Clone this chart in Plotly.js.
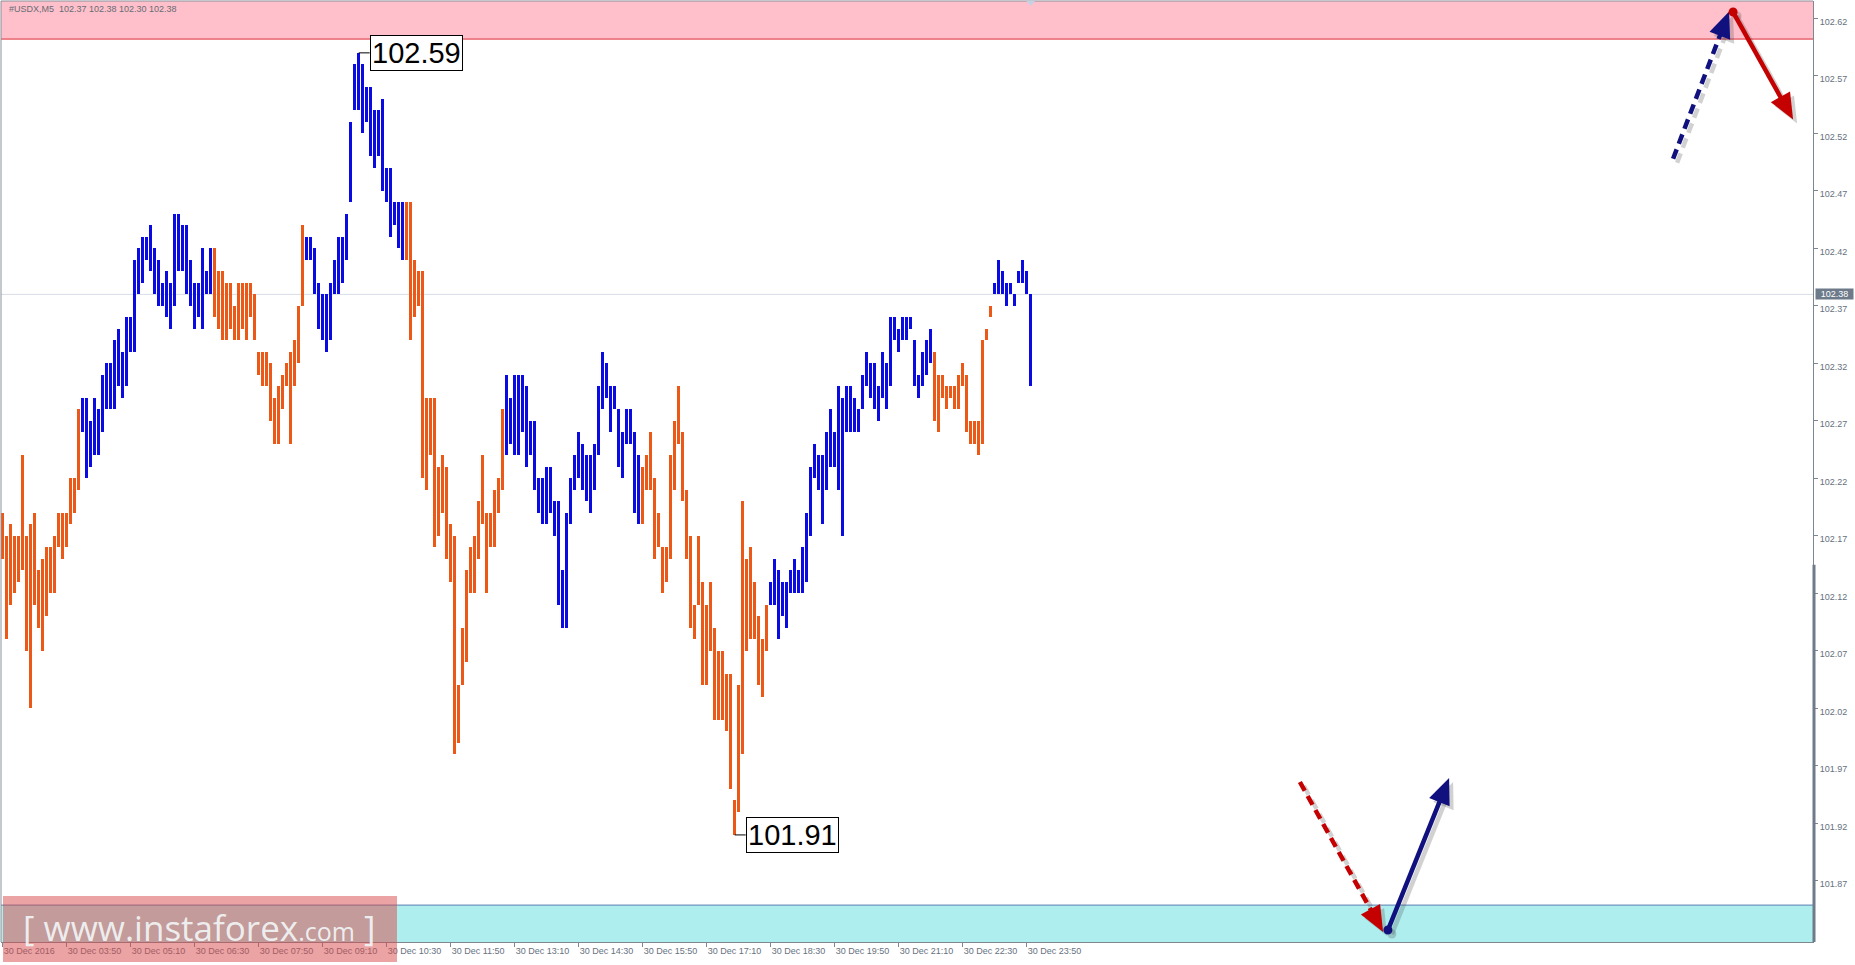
<!DOCTYPE html>
<html>
<head>
<meta charset="utf-8">
<script src="https://cdn.plot.ly/plotly-3.0.1.min.js"></script>
<style>
html,body{margin:0;padding:0;background:#ffffff;overflow:hidden;}
#chart{width:1855px;height:965px;}
</style>
</head>
<body>
<div id="chart"></div>
<script>
// ---------------- DATA ----------------
const symbol = "#USDX,M5";
const lastOpen = 102.37;
const lastClose = 102.38;

// 5-minute bars, 30 Dec 2016 02:30 ... 23:55 (bar index 1..258)
const high = [
 102.19,102.17,102.18,102.17,102.17,102.24,102.17,102.18,102.19,102.14,
 102.15,102.16,102.16,102.17,102.19,102.19,102.19,102.22,102.22,102.28,
 102.29,102.29,102.27,102.29,102.28,102.31,102.32,102.32,102.34,102.35,
 102.33,102.36,102.36,102.41,102.42,102.43,102.43,102.44,102.42,102.41,
 102.39,102.40,102.39,102.45,102.45,102.44,102.44,102.41,102.39,102.39,
 102.42,102.40,102.42,102.42,102.40,102.40,102.39,102.39,102.37,102.39,
 102.39,102.39,102.39,102.38,102.33,102.33,102.33,102.32,102.29,102.30,
 102.31,102.32,102.33,102.34,102.37,102.44,102.43,102.43,102.42,102.39,
 102.38,102.38,102.39,102.41,102.43,102.43,102.45,102.53,102.58,102.59,
 102.58,102.56,102.56,102.54,102.54,102.55,102.49,102.49,102.46,102.46,
 102.46,102.46,102.46,102.41,102.40,102.40,102.29,102.29,102.29,102.23,
 102.24,102.23,102.18,102.17,102.04,102.09,102.14,102.16,102.17,102.20,
 102.24,102.19,102.19,102.21,102.22,102.28,102.31,102.29,102.31,102.31,
 102.31,102.30,102.27,102.27,102.22,102.22,102.23,102.23,102.20,102.20,
 102.14,102.19,102.22,102.24,102.26,102.25,102.24,102.24,102.25,102.30,
 102.33,102.32,102.30,102.30,102.28,102.26,102.28,102.28,102.26,102.24,
 102.23,102.24,102.26,102.22,102.19,102.16,102.16,102.24,102.27,102.30,
 102.26,102.21,102.17,102.11,102.17,102.13,102.11,102.13,102.09,102.07,
 102.07,102.05,102.05,101.94,102.04,102.20,102.15,102.16,102.13,102.10,
 102.08,102.11,
 102.13,102.15,102.14,102.13,102.13,102.14,102.15,102.14,102.16,102.19,
 102.23,102.25,102.24,102.24,102.26,102.28,102.26,102.30,102.29,102.30,
 102.30,102.29,102.28,102.31,102.33,102.32,102.32,102.30,102.33,102.32,
 102.36,102.36,102.35,102.36,102.36,102.36,102.34,102.31,102.33,102.34,102.35,
 102.33,102.31,102.31,102.30,102.30,102.30,102.31,102.32,102.31,102.27,
 102.27,102.27,102.34,102.35,102.37,
 102.39,102.41,102.40,102.39,102.39,102.38,102.40,102.41,102.40,102.38
];
const low = [
 102.15,102.08,102.11,102.12,102.13,102.14,102.07,102.02,102.11,102.09,
 102.07,102.10,102.12,102.12,102.16,102.15,102.16,102.18,102.19,102.21,
 102.26,102.22,102.23,102.24,102.24,102.26,102.28,102.28,102.28,102.30,
 102.29,102.30,102.33,102.33,102.38,102.39,102.41,102.40,102.38,102.37,
 102.37,102.36,102.35,102.37,102.40,102.40,102.38,102.37,102.35,102.36,
 102.35,102.38,102.38,102.36,102.35,102.34,102.34,102.35,102.34,102.34,
 102.35,102.34,102.36,102.34,102.31,102.30,102.30,102.27,102.25,102.25,
 102.28,102.30,102.25,102.30,102.32,102.37,102.41,102.41,102.38,102.35,
 102.34,102.33,102.34,102.38,102.38,102.39,102.41,102.46,102.54,102.54,
 102.52,102.53,102.50,102.49,102.50,102.47,102.46,102.43,102.44,102.42,
 102.41,102.41,102.34,102.36,102.37,102.22,102.21,102.24,102.16,102.17,
 102.19,102.15,102.13,101.98,101.99,102.04,102.06,102.12,102.12,102.15,
 102.18,102.12,102.16,102.16,102.19,102.21,102.24,102.25,102.24,102.24,
 102.26,102.23,102.24,102.21,102.19,102.18,102.18,102.19,102.17,102.11,
 102.09,102.09,102.18,102.21,102.22,102.21,102.20,102.19,102.21,102.24,
 102.28,102.29,102.26,102.28,102.23,102.22,102.25,102.25,102.19,102.18,
 102.18,102.21,102.21,102.15,102.16,102.12,102.13,102.15,102.21,102.25,
 102.20,102.15,102.09,102.08,102.11,102.04,102.04,102.07,102.01,102.01,
 102.01,102.00,101.95,101.91,101.93,101.98,102.07,102.08,102.08,102.04,
 102.03,102.07,
 102.11,102.11,102.08,102.10,102.09,102.12,102.12,102.12,102.12,102.13,
 102.17,102.22,102.21,102.18,102.21,102.23,102.23,102.21,102.17,102.26,
 102.26,102.26,102.26,102.28,102.30,102.29,102.28,102.27,102.29,102.28,
 102.30,102.34,102.33,102.34,102.34,102.35,102.30,102.29,102.30,102.31,102.32,
 102.27,102.26,102.29,102.28,102.29,102.28,102.28,102.30,102.26,102.25,
 102.25,102.24,102.25,102.34,102.36,
 102.38,102.38,102.38,102.37,102.38,102.37,102.39,102.39,102.38,102.30
];

// wave segments (bar colour): first bar of each segment and its direction
const trendStartBar = [1, 21, 54, 77, 102, 127, 161, 193, 234, 249];
const trendDirection = ["down","up","down","up","down","up","down","up","down","up"];

// time axis labels
const xTickBars = [1,17,33,49,65,81,97,113,129,145,161,177,193,209,225,241,257];
const xTickLabels = ["30 Dec 2016","30 Dec 03:50","30 Dec 05:10","30 Dec 06:30","30 Dec 07:50",
  "30 Dec 09:10","30 Dec 10:30","30 Dec 11:50","30 Dec 13:10","30 Dec 14:30","30 Dec 15:50",
  "30 Dec 17:10","30 Dec 18:30","30 Dec 19:50","30 Dec 21:10","30 Dec 22:30","30 Dec 23:50"];
const yTickValues = [101.87,101.92,101.97,102.02,102.07,102.12,102.17,102.22,102.27,102.32,102.37,102.42,102.47,102.52,102.57,102.62];

const currentPrice = 102.38;
const resistanceZoneLow = 102.602;   // pink zone lower edge
const supportZoneHigh = 101.849;     // cyan zone upper edge
const swingHigh = {bar: 90, price: 102.59};
const swingLow = {bar: 184, price: 101.91};

// forecast arrows (bar index, price)
const forecastArrows = [
  {from:{bar:418.6, price:102.498}, to:{bar:432.6, price:102.626}, color:"#10107e", dashed:true,  startDot:false},
  {from:{bar:433.6, price:102.6255}, to:{bar:448.6, price:102.532}, color:"#c40000", dashed:false, startDot:true},
  {from:{bar:325.3, price:101.956}, to:{bar:346.1, price:101.8256}, color:"#c40000", dashed:true,  startDot:false},
  {from:{bar:347.3, price:101.8273}, to:{bar:362.6, price:101.9595}, color:"#10107e", dashed:false, startDot:true}
];

// ---------------- STYLE / LAYOUT ----------------
const W = 1855, H = 965;
const margin = {l:1, r:42, t:1, b:23};
const plotW = W - margin.l - margin.r, plotH = H - margin.t - margin.b;
const xRange = [0.575, 453.575];
const yRange = [101.8169, 102.6351];
const upColor = "#0a0ae2", downColor = "#ec5818";
const axisColor = "#7d8792", tickFontColor = "#66717e";

const barIndex = high.map((_, i) => i + 1);
const barColors = barIndex.map(k => {
  let d = trendDirection[0];
  for (let i = 0; i < trendStartBar.length; i++) if (k >= trendStartBar[i]) d = trendDirection[i];
  return d === "up" ? upColor : downColor;
});

const trace = {
  type: "bar",
  x: barIndex,
  base: low,
  y: high.map((h, i) => +(h - low[i]).toFixed(2)),
  width: 0.72,
  marker: {color: barColors, line: {width: 0}},
  hoverinfo: "skip",
  showlegend: false
};

function kToPx(k){ return margin.l + (k - xRange[0]) / (xRange[1] - xRange[0]) * plotW; }
function pxToK(px){ return xRange[0] + (px - margin.l) / plotW * (xRange[1] - xRange[0]); }
function pToPy(p){ return margin.t + (yRange[1] - p) / (yRange[1] - yRange[0]) * plotH; }
function pyToP(py){ return yRange[1] - (py - margin.t) / plotH * (yRange[1] - yRange[0]); }
function paperX(px){ return (px - margin.l) / plotW; }
function paperY(py){ return (margin.t + plotH - py) / plotH; }

function arrowShapes(a){
  const ax = kToPx(a.from.bar), ay = pToPy(a.from.price);
  const bx = kToPx(a.to.bar), by = pToPy(a.to.price);
  const dx = bx - ax, dy = by - ay, len = Math.hypot(dx, dy);
  const ux = dx / len, uy = dy / len, nx = -uy, ny = ux;
  const L = 26, HW = 11;
  const out = [];
  [{off:4, color:"rgba(70,70,70,0.25)"}, {off:0, color:a.color}].forEach(v => {
    const o = v.off;
    const baseX = bx - ux * L + o, baseY = by - uy * L + o;
    out.push({type:"line", xref:"x", yref:"y", layer:"above",
      x0:pxToK(ax + o), y0:pyToP(ay + o), x1:pxToK(baseX + ux * 3), y1:pyToP(baseY + uy * 3),
      line:{color:v.color, width:4.5, dash:a.dashed ? "10px,6px" : "solid"}});
    const pts = [[bx + o, by + o], [baseX + nx * HW, baseY + ny * HW], [baseX - nx * HW, baseY - ny * HW]];
    out.push({type:"path", xref:"x", yref:"y", layer:"above",
      path:"M " + pts.map(p => pxToK(p[0]) + "," + pyToP(p[1])).join(" L ") + " Z",
      fillcolor:v.color, line:{width:0}});
    if (a.startDot) out.push({type:"circle", xref:"x", yref:"y", layer:"above",
      xsizemode:"pixel", ysizemode:"pixel", xanchor:pxToK(ax + o), yanchor:pyToP(ay + o),
      x0:-4.5, x1:4.5, y0:-4.5, y1:4.5, fillcolor:v.color, line:{width:0}});
  });
  return out;
}

const labelGapPx = 11;
const shapes = [
  // resistance (pink) zone
  {type:"rect", xref:"paper", yref:"y", x0:0, x1:1, y0:resistanceZoneLow, y1:yRange[1], fillcolor:"#ffc0cb", line:{width:0}, layer:"below"},
  {type:"line", xref:"paper", yref:"y", x0:0, x1:1, y0:resistanceZoneLow, y1:resistanceZoneLow, line:{color:"#dc2a34", width:1}, layer:"below"},
  // support (cyan) zone
  {type:"rect", xref:"paper", yref:"y", x0:0, x1:1, y0:yRange[0], y1:supportZoneHigh, fillcolor:"#afeeee", line:{width:0}, layer:"below"},
  {type:"line", xref:"paper", yref:"y", x0:0, x1:1, y0:supportZoneHigh, y1:supportZoneHigh, line:{color:"#5a7fb2", width:1}, layer:"below"},
  // current price line
  {type:"line", xref:"paper", yref:"y", x0:0, x1:1, y0:currentPrice, y1:currentPrice, line:{color:"#d6dce8", width:1}, layer:"below"},
  // frame
  {type:"line", xref:"paper", yref:"paper", x0:0, x1:1, y0:1, y1:1, line:{color:"#8a9098", width:1}},
  {type:"line", xref:"paper", yref:"paper", x0:0, x1:0, y0:0, y1:1, line:{color:"#8a9098", width:1}},
  // scroll marker on the price scale
  {type:"line", xref:"paper", yref:"y", x0:paperX(1814), x1:paperX(1814), y0:102.145, y1:yRange[0], line:{color:"#6f7b88", width:3}},
  // shift marker at top
  {type:"path", xref:"x", yref:"paper", path:"M " + (high.length - 1.1) + ",1 L " + (high.length + 1.1) + ",1 L " + high.length + "," + paperY(6) + " Z", fillcolor:"#c4d0e6", line:{width:0}},
  // label connectors
  {type:"line", xref:"x", yref:"y", x0:swingHigh.bar, x1:swingHigh.bar + labelGapPx * (xRange[1]-xRange[0]) / plotW, y0:swingHigh.price, y1:swingHigh.price, line:{color:"#000", width:1}},
  {type:"line", xref:"x", yref:"y", x0:swingLow.bar, x1:swingLow.bar + labelGapPx * (xRange[1]-xRange[0]) / plotW, y0:swingLow.price, y1:swingLow.price, line:{color:"#000", width:1}},
  ...forecastArrows.flatMap(arrowShapes),
  // watermark box
  {type:"rect", xref:"paper", yref:"paper", x0:paperX(3), x1:paperX(397), y0:paperY(962), y1:paperY(896), fillcolor:"rgba(215,72,72,0.5)", line:{width:0}, layer:"above"}
];

const fmt = v => v.toFixed(2);
const annotations = [
  {xref:"paper", yref:"paper", x:0, y:1, xanchor:"left", yanchor:"top", xshift:6, yshift:-1, showarrow:false,
   text: symbol + "&nbsp;&nbsp;" + [lastOpen, high[high.length-1], low[low.length-1], lastClose].map(fmt).join(" "),
   font:{family:"Liberation Sans, Arial, sans-serif", size:9, color:"#666c74"}},
  {xref:"x", yref:"y", x:swingHigh.bar, y:swingHigh.price, xanchor:"left", yanchor:"middle", xshift:labelGapPx, showarrow:false,
   text:fmt(swingHigh.price), font:{family:"Liberation Sans, Arial, sans-serif", size:29, color:"#000"},
   bgcolor:"#ffffff", bordercolor:"#000000", borderwidth:1, borderpad:1},
  {xref:"x", yref:"y", x:swingLow.bar, y:swingLow.price, xanchor:"left", yanchor:"middle", xshift:labelGapPx, showarrow:false,
   text:fmt(swingLow.price), font:{family:"Liberation Sans, Arial, sans-serif", size:29, color:"#000"},
   bgcolor:"#ffffff", bordercolor:"#000000", borderwidth:1, borderpad:1},
  {xref:"paper", yref:"y", x:1, y:currentPrice, xanchor:"left", yanchor:"middle", xshift:2, showarrow:false,
   text:fmt(currentPrice), font:{family:"Liberation Sans, Arial, sans-serif", size:9, color:"#ffffff"},
   bgcolor:"#6c7a8a", borderpad:0, width:37, height:10},
  {xref:"paper", yref:"paper", x:paperX(199), y:paperY(927), xanchor:"center", yanchor:"middle", showarrow:false,
   text:"[ www.instaforex<span style='font-size:25px'>.com</span> ]",
   font:{family:"Open Sans, Liberation Sans, sans-serif", size:35, color:"rgba(242,246,246,0.93)"}}
];

const layout = {
  width: W, height: H,
  margin: margin,
  paper_bgcolor: "#ffffff", plot_bgcolor: "#ffffff",
  showlegend: false, hovermode: false, dragmode: false,
  bargap: 0,
  xaxis: {
    range: xRange, fixedrange: true, showgrid: false, zeroline: false,
    tickmode: "array", tickvals: xTickBars, ticktext: xTickLabels,
    ticks: "outside", ticklen: 4, tickcolor: axisColor, ticklabelposition: "outside right",
    showline: true, linecolor: axisColor, linewidth: 1,
    tickfont: {family: "Liberation Sans, Arial, sans-serif", size: 9, color: tickFontColor}
  },
  yaxis: {
    side: "right", range: yRange, fixedrange: true, showgrid: false, zeroline: false,
    tickmode: "array", tickvals: yTickValues, ticktext: yTickValues.map(fmt),
    ticks: "outside", ticklen: 4, tickcolor: axisColor, ticklabelshift: 3,
    showline: true, linecolor: axisColor, linewidth: 1,
    tickfont: {family: "Liberation Sans, Arial, sans-serif", size: 9, color: tickFontColor}
  },
  shapes: shapes,
  annotations: annotations
};

Plotly.newPlot("chart", [trace], layout, {displayModeBar: false, staticPlot: true});
</script>
</body>
</html>
